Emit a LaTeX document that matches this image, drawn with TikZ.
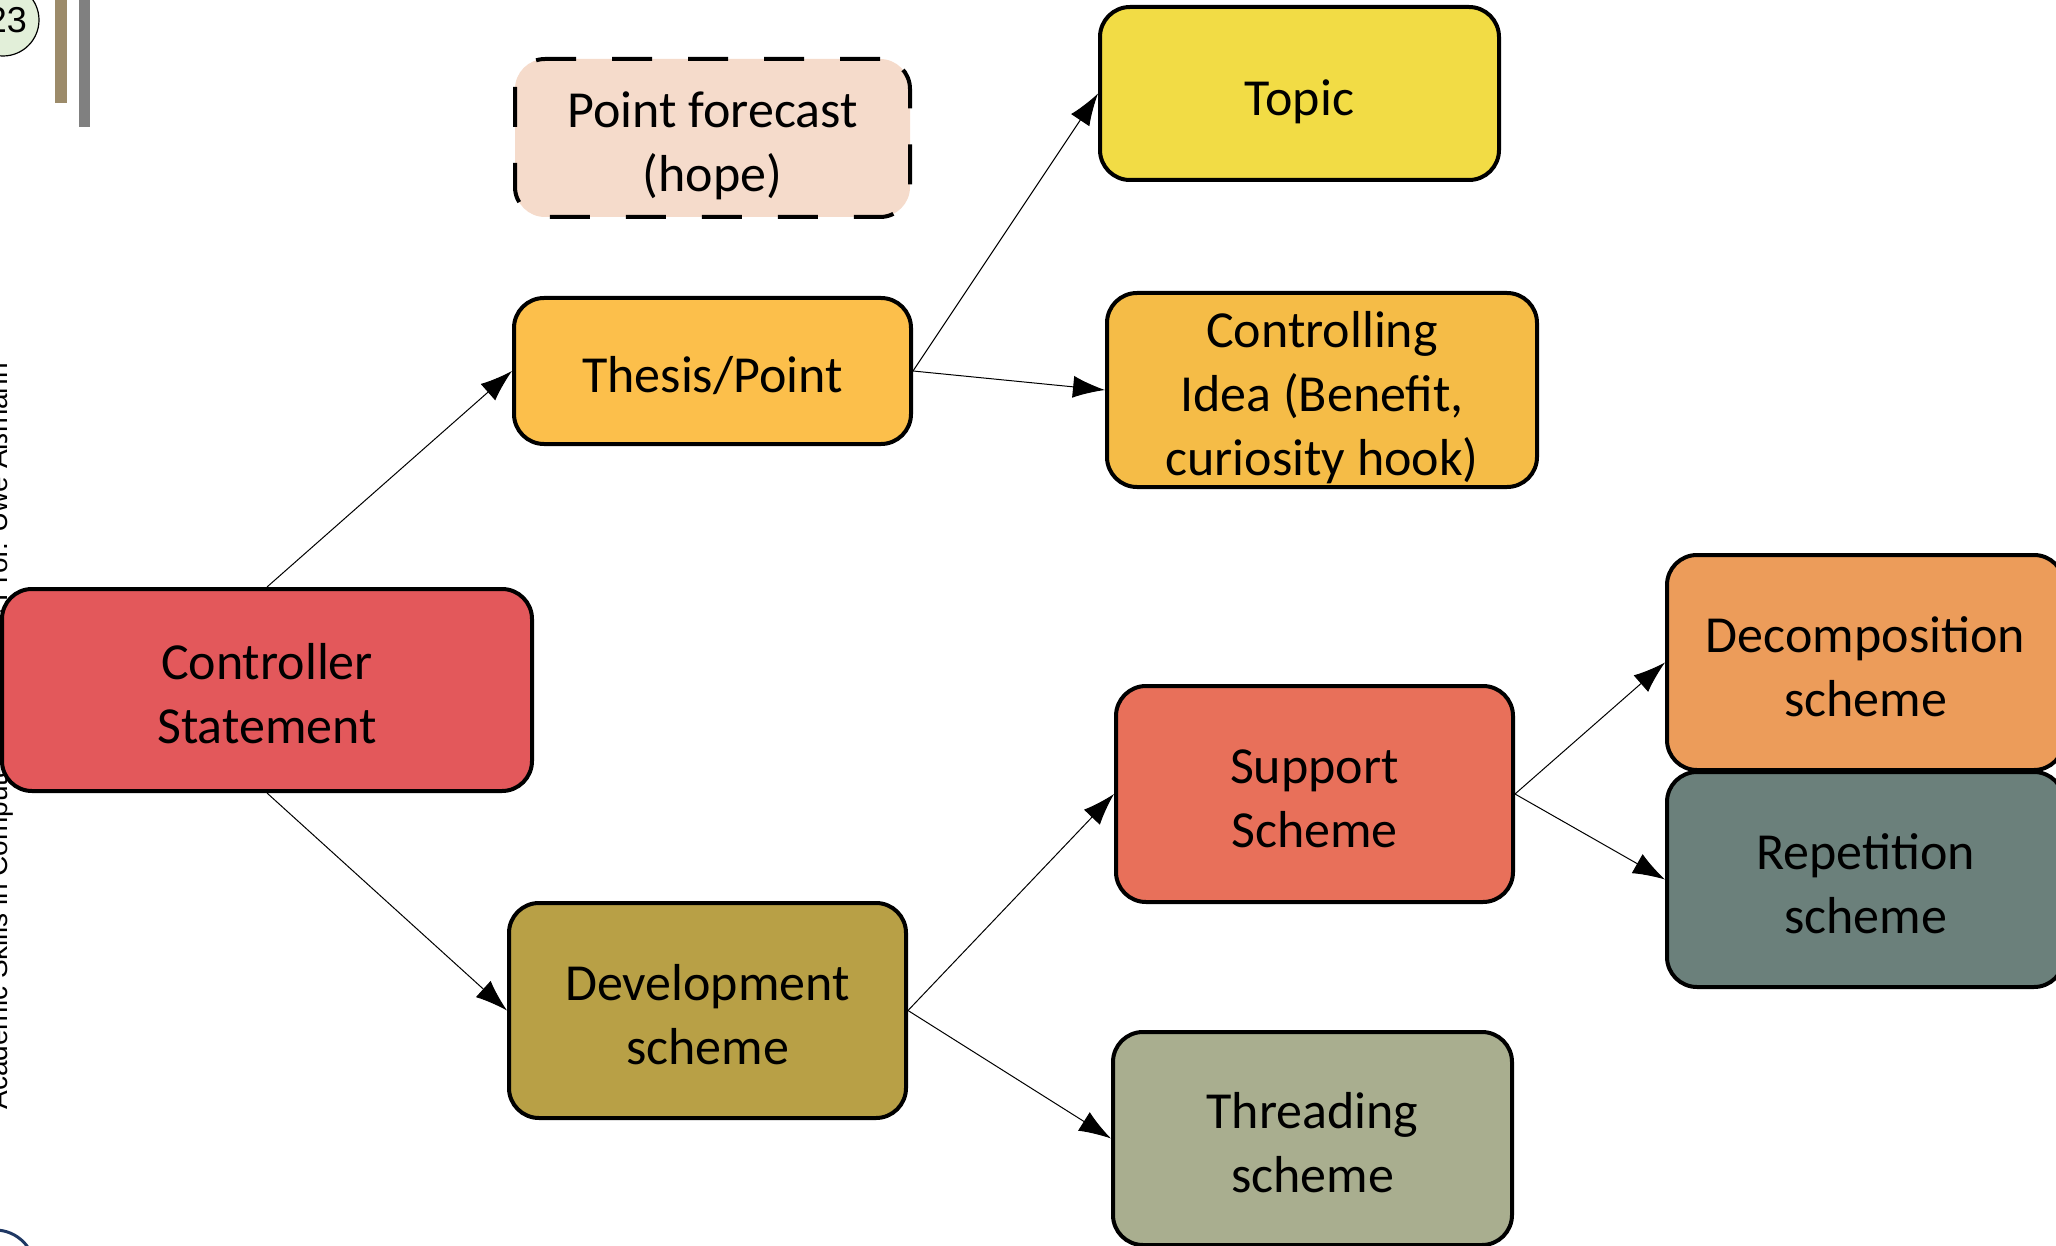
\documentclass[tikz,border=0pt]{standalone}
\usepackage{fontspec}
\setmainfont{Carlito}
\newfontfamily\footfont{Liberation Sans}
\usepackage{tikz}
\usetikzlibrary{shapes,arrows.meta,positioning}

\definecolor{cforecast}{HTML}{F5DBCB}
\definecolor{ctopic}{HTML}{F2DC45}
\definecolor{cthesis}{HTML}{FCBF4B}
\definecolor{cidea}{HTML}{F5BC47}
\definecolor{cctrl}{HTML}{E3585B}
\definecolor{cdevel}{HTML}{B8A046}
\definecolor{csupport}{HTML}{E8705A}
\definecolor{cthread}{HTML}{A9AE8F}
\definecolor{cdecomp}{HTML}{EC9C5A}
\definecolor{crepet}{HTML}{6B807B}
\definecolor{cbar}{HTML}{9C8B6A}
\definecolor{cpage}{HTML}{E2EFD9}
\definecolor{clogo}{HTML}{1F3864}

% box text, set a little lower than the box centre
\newcommand{\boxtext}[1]{\raisebox{-4.5pt}[\height][\depth]{\begin{tabular}{@{}c@{}}#1\end{tabular}}}

\begin{document}
\begin{tikzpicture}[
    x=0.5pt, y=-0.5pt,
    box/.style={rectangle, rounded corners=15pt, draw=black, line width=2pt, inner sep=0pt, font=\fontsize{26}{32}\selectfont, minimum width=198.5pt, minimum height=107.5pt},
    dashbox/.style={box, dash pattern=on 20pt off 18pt},
    arrow/.style={-{Latex[length=16pt,width=11pt]}, line width=0.5pt}
]
\useasboundingbox (0,0) rectangle (2056,1246);

% Slide leftovers
\node (footer) [rotate=90, anchor=base west, inner sep=0pt, font=\footfont\fontsize{14}{16}\selectfont] at (7,1110) {Academic Skills in Computer Science, © Prof. Uwe Aßmann};
\fill[cbar] (55,0) rectangle (67,103);
\fill[gray] (79,0) rectangle (90,127);
\draw[fill=cpage, line width=0.6pt] (3,20) circle (36);
\node (page) [font=\footfont\fontsize{18}{20}\selectfont, inner sep=0pt] at (7,20) {23};
\draw[clogo, line width=1.5pt] (-5,1270) circle (40);

% Nodes
\node (forecast) [dashbox, fill=cforecast, minimum width=197.5pt, minimum height=79pt] at (712.5,138) {\boxtext{Point forecast\\(hope)}};
\node (topic) [box, fill=ctopic, minimum width=199.5pt, minimum height=86.5pt] at (1299.5,93.5) {\boxtext{Topic}};
\node (thesis) [box, fill=cthesis, minimum height=73pt] at (712.5,371) {\boxtext{Thesis/Point}};
\node (idea) [box, fill=cidea, minimum width=215pt, minimum height=97pt] at (1322,390) {\boxtext{Controlling\\Idea (Benefit,\\curiosity hook)}};
\node (ctrl) [box, fill=cctrl, minimum width=265pt, minimum height=101pt] at (267,690) {\boxtext{Controller\\Statement}};
\node (devel) [box, fill=cdevel] at (707.5,1010.5) {\boxtext{Development\\scheme}};
\node (support) [box, fill=csupport, minimum height=108pt] at (1314.5,794) {\boxtext{Support\\Scheme}};
\node (thread) [box, fill=cthread, minimum width=199.5pt, minimum height=106.5pt] at (1312.5,1138.5) {\boxtext{Threading\\scheme}};
\node (decomp) [box, fill=cdecomp] at (1865.5,662.5) {\boxtext{Decomposition\\scheme}};
\node (repet) [box, fill=crepet] at (1865.5,879.5) {\boxtext{Repetition\\scheme}};

% Arrows
\draw [arrow] (ctrl.north) -- (thesis.west);
\draw [arrow] (ctrl.south) -- (devel.west);

\draw [arrow] (thesis.east) -- (topic.west);
\draw [arrow] (thesis.east) -- (idea.west);

\draw [arrow] (devel.east) -- (support.west);
\draw [arrow] (devel.east) -- (thread.west);

\draw [arrow] (support.east) -- (decomp.west);
\draw [arrow] (support.east) -- (repet.west);

\end{tikzpicture}
\end{document}
